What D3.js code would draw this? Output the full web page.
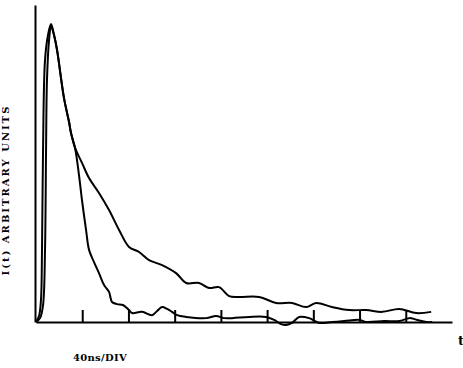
<!DOCTYPE html>
<html>
<head>
<meta charset="utf-8">
<script src="https://cdn.jsdelivr.net/npm/d3@7/dist/d3.min.js"></script>
<style>
  html, body { margin: 0; padding: 0; background: #fff; }
  svg { display: block; }
  .lbl { font-family: "DejaVu Serif", "Liberation Serif", serif; font-weight: bold; fill: #000; }
</style>
</head>
<body>
<svg id="chart" width="463" height="368"></svg>
<script>
// Time-resolved intensity, two decay traces (time in ns, 40 ns per division)
const fastTime = [0, 2.6, 4.3, 5.2, 6.1, 7.8, 10.4, 13.0, 15.6, 18.2, 24.2, 28.6, 30.3, 33.8,
  37.2, 39.8, 43.3, 45.9, 50.2, 54.5, 58.9, 63.2, 65.8, 70.1, 75.3, 80.5, 83.1, 91.8, 100.4,
  104.8, 109.1, 113.4, 117.7, 122.1, 129.9, 147.2, 155.8, 162.8, 169.7, 184.4, 199.1, 206.1,
  212.1, 216.5, 221.6, 227.7, 236.4, 245.0, 256.3, 266.7, 279.7, 285.7, 301.3, 314.3, 322.9,
  329.9, 337.7, 342.9];
const fastIntensity = [0, 2.0, 7.4, 24.2, 57.7, 87.9, 96.3, 100, 96.3, 91.3, 75.2, 67.1, 63.4, 58.4,
  49.3, 40.9, 30.9, 24.2, 20.1, 16.4, 12.4, 10.1, 6.7, 6.0, 5.7, 4.0, 3.0, 3.4, 2.3,
  3.7, 5.0, 4.4, 3.4, 2.3, 1.7, 1.3, 2.0, 1.3, 1.3, 1.7, 1.7, 0.7,
  -0.7, -1.0, -0.3, 1.7, 1.3, -0.3, 0, 0.3, 0.7, 0, 0.3, 0.3, 1.3,
  0.7, 0, 0];

const slowTime = [0, 3.5, 6.1, 7.8, 8.7, 9.5, 11.3, 13.0, 15.6, 18.2, 24.2, 28.6, 30.3, 33.8,
  39.8, 45.9, 54.5, 63.2, 71.9, 80.5, 89.2, 97.8, 109.1, 121.2, 129.9, 141.1, 149.8, 158.4,
  167.1, 175.8, 193.1, 207.8, 221.6, 233.8, 242.4, 256.3, 271.0, 285.7, 299.6, 314.3, 329.0, 342.0];
const slowIntensity = [0, 1.3, 5.7, 24.2, 57.7, 81.2, 94.6, 99.3, 96.3, 91.3, 75.2, 67.1, 63.4, 58.4,
  53.4, 48.3, 43.3, 37.6, 30.9, 25.2, 23.5, 20.8, 19.1, 16.4, 13.1, 13.1, 11.4, 11.7,
  8.7, 8.4, 8.4, 6.4, 6.4, 5.0, 6.4, 5.0, 4.0, 4.0, 3.4, 4.4, 3.0, 3.4];

// Division marks along the time axis (ns)
const divisionTicks = [40, 80, 120, 160, 200, 240, 280, 320];

const yLabel = "I(t) ARBITRARY UNITS";
const xLabel = "40ns/DIV";
const xEndLabel = "t";

const svg = d3.select("#chart");

const x = d3.scaleLinear().domain([0, 360]).range([36, 452]);
const y = d3.scaleLinear().domain([0, 100]).range([322, 24]);

// Horizontal axis with inward division marks
svg.append("g")
  .attr("transform", `translate(0,${y(0)})`)
  .call(d3.axisBottom(x).tickValues(divisionTicks).tickSizeInner(-12).tickSizeOuter(0).tickFormat(""))
  .call(g => g.selectAll("path.domain").attr("stroke", "#000").attr("stroke-width", 2))
  .call(g => g.selectAll(".tick line").attr("stroke", "#000").attr("stroke-width", 2));

// Vertical axis, a bare line
svg.append("g")
  .attr("transform", `translate(${x(0) - 1},0)`)
  .call(d3.axisLeft(y.copy().domain([0, 106.4]).range([322, 5])).tickValues([]).tickSizeOuter(0))
  .call(g => g.selectAll("path.domain").attr("stroke", "#000").attr("stroke-width", 2));

const line = d3.line()
  .x(d => x(d[0]))
  .y(d => y(d[1]))
  .curve(d3.curveCatmullRom.alpha(0.5));

const traces = [
  d3.zip(fastTime, fastIntensity),
  d3.zip(slowTime, slowIntensity)
];

svg.selectAll("path.trace")
  .data(traces)
  .join("path")
  .attr("class", "trace")
  .attr("d", line)
  .attr("fill", "none")
  .attr("stroke", "#000")
  .attr("stroke-width", 2)
  .attr("stroke-linejoin", "round");

// Labels
svg.append("text")
  .attr("class", "lbl")
  .attr("transform", "translate(9,190) rotate(-90)")
  .attr("text-anchor", "middle")
  .style("font-size", "10px")
  .style("letter-spacing", "2px")
  .text(yLabel);

svg.append("text")
  .attr("class", "lbl")
  .attr("x", 73)
  .attr("y", 361)
  .style("font-size", "10px")
  .style("letter-spacing", "0.3px")
  .text(xLabel);

svg.append("text")
  .attr("class", "lbl")
  .attr("x", 458)
  .attr("y", 345)
  .style("font-size", "13px")
  .text(xEndLabel);
</script>
</body>
</html>
